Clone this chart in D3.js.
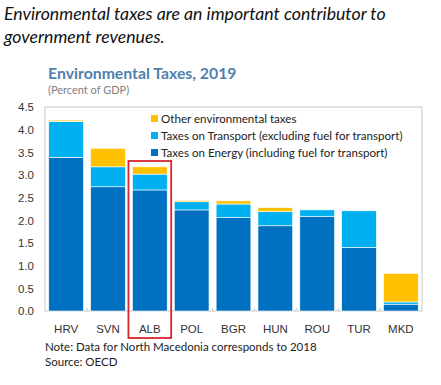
<!DOCTYPE html>
<html lang="en-US">
<head>
<meta charset="UTF-8" />
<title>Environmental Taxes, 2019</title>
<style>
  body { margin: 0; background: #fff; }
  svg { font-family: Lato, "Open Sans", sans-serif; }
  .tick text { font-size: 11.5px; fill: #333; }
</style>
<script src="https://d3js.org/d3.v7.min.js"></script>
</head>
<body>
<div id="chart"></div>
<script>
  const countries = ["HRV", "SVN", "ALB", "POL", "BGR", "HUN", "ROU", "TUR", "MKD"];
  const energy    = [3.39, 2.74, 2.67, 2.23, 2.06, 1.88, 2.09, 1.40, 0.15];
  const transport = [0.79, 0.44, 0.35, 0.18, 0.30, 0.31, 0.14, 0.81, 0.05];
  const other     = [0.03, 0.41, 0.16, 0.03, 0.07, 0.09, 0.00, 0.00, 0.63];
  const yTicks = [0, 0.5, 1, 1.5, 2, 2.5, 3, 3.5, 4, 4.5];
  const seriesNames = [
    "Taxes on Energy (including fuel for transport)",
    "Taxes on Transport (excluding fuel for transport)",
    "Other environmental taxes"
  ];
  const colors = ["#0070c0", "#00b0f0", "#ffc000"];

  const width = 441, height = 385;
  const margin = { left: 45, right: 19, top: 107, bottom: 74 };

  const svg = d3.select("#chart").append("svg")
    .attr("width", width).attr("height", height);

  // heading
  svg.append("text").attr("x", 4).attr("y", 20)
    .attr("font-size", 17.7).attr("font-style", "italic").attr("fill", "#111")
    .text("Environmental taxes are an important contributor to");
  svg.append("text").attr("x", 4).attr("y", 43)
    .attr("font-size", 17.7).attr("font-style", "italic").attr("fill", "#111")
    .text("government revenues.");

  svg.append("text").attr("x", 48).attr("y", 79)
    .attr("font-size", 15.8).attr("font-weight", "bold").attr("fill", "#4f81ad")
    .text("Environmental Taxes, 2019");
  svg.append("text").attr("x", 48).attr("y", 94)
    .attr("font-size", 11).attr("fill", "#7f7f7f")
    .text("(Percent of GDP)");

  const data = countries.map((c, i) => ({ country: c, energy: energy[i], transport: transport[i], other: other[i] }));
  const stack = d3.stack().keys(["energy", "transport", "other"])(data);

  const x = d3.scaleBand().domain(countries)
    .range([margin.left, width - margin.right]).paddingInner(0.17).paddingOuter(0.09);
  const y = d3.scaleLinear().domain([0, 4.5]).range([height - margin.bottom, margin.top]);

  // plot frame
  svg.append("rect")
    .attr("x", margin.left).attr("y", margin.top)
    .attr("width", width - margin.left - margin.right)
    .attr("height", height - margin.top - margin.bottom)
    .attr("fill", "none").attr("stroke", "#c8c8c8");

  svg.append("g").selectAll("g").data(stack).join("g")
    .attr("fill", (d, i) => colors[i])
    .selectAll("rect").data(d => d).join("rect")
    .attr("x", d => x(d.data.country))
    .attr("width", x.bandwidth())
    .attr("y", d => y(d[1]))
    .attr("height", d => Math.max(0, y(d[0]) - y(d[1])))
    .attr("stroke", "#fff").attr("stroke-width", 0.6);

  // y axis
  const yAxis = svg.append("g")
    .attr("transform", `translate(${margin.left},0)`)
    .call(d3.axisLeft(y).tickValues(yTicks).tickFormat(d3.format(".1f")).tickSize(0).tickPadding(11));
  yAxis.select(".domain").remove();

  // x axis
  const xAxis = svg.append("g")
    .attr("transform", `translate(0,${height - margin.bottom})`)
    .call(d3.axisBottom(x).tickSize(0).tickPadding(14));
  xAxis.select(".domain").remove();

  // small separators between categories
  svg.append("g").selectAll("line").data(countries.slice(1)).join("line")
    .attr("x1", d => x(d) - x.step() * x.paddingInner() / 2)
    .attr("x2", d => x(d) - x.step() * x.paddingInner() / 2)
    .attr("y1", height - margin.bottom)
    .attr("y2", height - margin.bottom - 3)
    .attr("stroke", "#c8c8c8");

  // legend
  const legend = svg.append("g").attr("transform", "translate(151,115)");
  const order = [2, 1, 0];
  order.forEach((s, i) => {
    const g = legend.append("g").attr("transform", `translate(0,${i * 17})`);
    g.append("rect").attr("width", 7).attr("height", 7).attr("fill", colors[s]);
    g.append("text").attr("x", 10).attr("y", 7.8)
      .attr("font-size", 11.6).attr("fill", "#222").text(seriesNames[s]);
  });

  // highlight ALB
  svg.append("rect")
    .attr("x", x("ALB") - 4).attr("y", 161)
    .attr("width", x.bandwidth() + 8).attr("height", 177)
    .attr("fill", "none").attr("stroke", "#d9262b").attr("stroke-width", 1.8);

  svg.append("text").attr("x", 45).attr("y", 351)
    .attr("font-size", 11.5).attr("fill", "#222")
    .text("Note: Data for North Macedonia corresponds to 2018");
  svg.append("text").attr("x", 45).attr("y", 366)
    .attr("font-size", 11.5).attr("fill", "#222")
    .text("Source: OECD");
</script>
</body>
</html>
